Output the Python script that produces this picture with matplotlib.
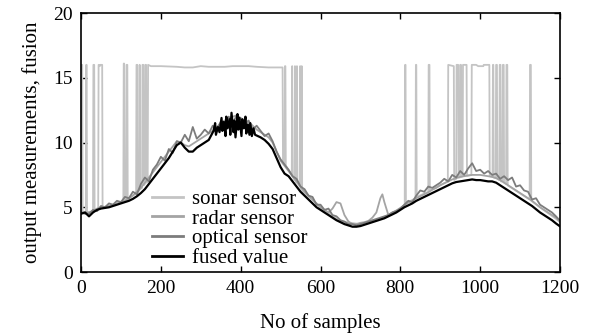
import numpy as np
import matplotlib
matplotlib.use("Agg")
import matplotlib.pyplot as plt

plt.rcParams['font.family'] = ['Liberation Serif', 'DejaVu Serif']
plt.rcParams['font.size'] = 14

# sample index grid (every 10 samples) for the smooth sensors
grid = list(range(0, 1200, 10)) + [1199]

fused = [4.5, 4.6, 4.3, 4.6, 4.8, 4.9, 4.95, 5.0, 5.1, 5.2,
         5.3, 5.4, 5.5, 5.65, 5.85, 6.1, 6.4, 6.8, 7.2, 7.6,
         8.0, 8.4, 8.8, 9.3, 9.8, 10.0, 9.6, 9.3, 9.3, 9.6,
         9.8, 10.0, 10.2, 10.4, 10.7, 11.0, 11.3, 11.5, 11.2, 11.6,
         11.4, 11.0, 11.2, 10.9, 10.5, 10.4, 10.2, 9.9, 9.5, 8.8,
         8.1, 7.6, 7.4, 7.0, 6.6, 6.2, 5.9, 5.6, 5.3, 5.0,
         4.8, 4.6, 4.4, 4.2, 4.0, 3.85, 3.7, 3.6, 3.5, 3.5,
         3.55, 3.65, 3.75, 3.85, 3.95, 4.05, 4.15, 4.3, 4.45, 4.6,
         4.8, 5.0, 5.15, 5.3, 5.5, 5.65, 5.8, 5.95, 6.1, 6.25,
         6.4, 6.55, 6.7, 6.85, 6.95, 7.0, 7.05, 7.1, 7.15, 7.1,
         7.1, 7.05, 7.0, 7.0, 6.9, 6.7, 6.5, 6.3, 6.1, 5.9,
         5.7, 5.5, 5.3, 5.1, 4.85, 4.6, 4.4, 4.2, 4.0, 3.75, 3.55]

# noisy stretch of the fused value near the peak
fused_peak_x = [332, 336, 338, 343, 347, 352, 354, 358, 362, 364, 367, 372,
                374, 377, 382, 384, 387, 392, 394, 397, 402, 404, 408, 412,
                414, 418, 422, 424, 428, 432, 436]
fused_peak_y = [10.9, 11.5, 10.6, 11.2, 10.8, 11.9, 10.9, 11.6, 10.5, 12.0,
                11.1, 11.8, 10.6, 12.3, 10.8, 11.7, 10.4, 12.2, 11.0, 11.9,
                10.5, 11.8, 11.1, 12.0, 10.7, 11.4, 10.6, 11.5, 10.5, 11.1, 10.6]

optical = [4.6, 4.5, 4.5, 4.8, 4.7, 5.1, 5.0, 5.3, 5.2, 5.5,
           5.4, 5.8, 5.7, 6.2, 6.0, 6.8, 7.3, 7.0, 7.9, 8.3,
           8.9, 8.6, 9.5, 9.2, 10.1, 10.0, 10.6, 10.1, 11.2, 10.3,
           10.6, 11.0, 10.7, 11.3, 11.0, 11.6, 11.3, 12.0, 11.5, 12.1,
           11.8, 11.4, 11.7, 11.0, 11.3, 10.9, 10.5, 10.7, 10.1, 9.3,
           8.7, 8.3, 7.9, 7.4, 7.2, 6.6, 6.4, 5.9, 5.8, 5.2,
           5.2, 4.8, 4.9, 4.4, 4.3, 4.0, 3.9, 3.7, 3.7, 3.6,
           3.7, 3.8, 3.9, 4.0, 4.1, 4.2, 4.3, 4.4, 4.6, 4.7,
           4.9, 5.2, 5.5, 5.4, 5.9, 6.3, 6.2, 6.6, 6.5, 6.7,
           6.9, 7.2, 7.0, 7.5, 7.3, 7.8, 7.5, 8.0, 8.4, 7.8,
           7.9, 7.6, 7.8, 7.5, 7.6, 7.2, 7.4, 7.1, 7.3, 6.6,
           6.7, 6.3, 6.2, 5.6, 5.7, 5.2, 5.0, 4.8, 4.6, 4.3, 4.0]

radar_x = (list(range(0, 750, 10)) + [750, 755, 760]
           + list(range(770, 1200, 10)) + [1199])
radar = [4.6, 4.6, 4.6, 4.7, 4.9, 5.0, 5.0, 5.1, 5.2, 5.3,
         5.4, 5.5, 5.7, 5.9, 6.2, 6.5, 6.9, 7.3, 7.7, 8.1,
         8.5, 8.9, 9.3, 9.7, 10.1, 10.0, 9.8, 9.7, 9.9, 10.1,
         10.3, 10.5, 10.7, 10.9, 11.2, 11.5, 11.7, 11.9, 12.0, 12.1,
         11.9, 11.7, 11.6, 11.3, 11.0, 10.8, 10.6, 10.4, 10.0, 9.3,
         8.6, 8.2, 7.8, 7.4, 7.0, 6.6, 6.2, 5.9, 5.6, 5.3,
         5.0, 4.8, 4.6, 4.9, 5.4, 5.3, 4.4, 3.9, 3.7, 3.7,
         3.8, 3.85, 3.95, 4.2, 4.6, 5.7, 6.0, 5.4,
         4.4, 4.6, 4.75, 4.95, 5.15, 5.35, 5.5, 5.7, 5.85, 6.0,
         6.15, 6.35, 6.5, 6.7, 6.85, 7.0, 7.15, 7.25, 7.35, 7.4,
         7.45, 7.5, 7.5, 7.5, 7.45, 7.4, 7.35, 7.25, 7.1, 6.9,
         6.7, 6.5, 6.3, 6.1, 5.9, 5.7, 5.5, 5.25, 5.0, 4.8,
         4.6, 4.4, 4.2, 3.9]

# sonar: drops out to max range (~16) many times
sonar_x = [0, 1, 3, 4, 12, 13, 14, 15, 30, 31, 33, 34, 43, 44, 47, 48, 53, 54,
           106, 107, 108, 109, 113, 114, 116, 117, 138, 139, 141, 142, 146, 147, 148,
           153, 154, 156, 157, 160, 161, 163, 164, 167, 168, 175, 200, 240, 260, 280,
           300, 320, 360, 380, 420, 440, 470, 505, 506, 510, 511, 512, 513, 528, 529,
           530, 535, 536, 537, 540, 541, 542, 548, 549, 550, 552, 553, 554, 600, 650,
           700, 750, 800, 811, 812, 813, 814, 838, 839, 840, 841, 870, 871, 873, 874,
           919, 920, 934, 935, 940, 941, 945, 946, 949, 950, 952, 953, 956, 957, 966,
           967, 978, 979, 990, 995, 1008, 1009, 1023, 1024, 1031, 1032, 1033, 1034,
           1039, 1040, 1042, 1043, 1048, 1049, 1051, 1052, 1056, 1057, 1059, 1060,
           1065, 1066, 1068, 1069, 1124, 1125, 1127, 1128, 1150, 1199]
sonar = [4.6, 16.0, 16.0, 4.6, 4.6, 16.0, 16.0, 4.6, 4.7, 16.0, 16.0, 4.8, 4.9, 16.0, 15.9, 16.0, 16.0, 5.0,
         5.4, 16.1, 16.1, 5.5, 5.5, 16.0, 16.0, 5.6, 6.1, 16.0, 16.0, 6.2, 6.3, 16.0, 6.4,
         6.5, 16.0, 16.0, 6.7, 6.8, 16.0, 16.0, 6.9, 7.0, 16.0, 15.9, 15.9, 15.85, 15.8, 15.8,
         15.9, 15.85, 15.85, 15.9, 15.9, 15.85, 15.8, 15.8, 8.5, 8.3, 15.9, 15.9, 8.2, 7.5, 15.9,
         7.4, 7.1, 15.9, 7.1, 6.9, 15.9, 6.9, 6.6, 15.9, 6.5, 6.4, 15.9, 6.3, 5.0, 3.9,
         3.7, 4.1, 4.9, 5.2, 16.0, 16.0, 5.3, 5.7, 16.0, 16.0, 5.8, 6.2, 16.0, 16.0, 6.3,
         7.0, 16.0, 15.9, 7.1, 7.2, 16.0, 16.0, 7.3, 7.3, 16.0, 16.0, 7.35, 7.4, 16.0, 16.0,
         7.45, 7.5, 16.0, 16.0, 15.9, 15.9, 16.0, 16.0, 7.4, 7.35, 16.0, 16.0, 7.3,
         7.25, 16.0, 16.0, 7.2, 7.1, 16.0, 16.0, 7.0, 7.0, 16.0, 16.0, 6.9,
         6.8, 16.0, 16.0, 6.7, 5.6, 16.0, 16.0, 5.5, 5.0, 3.9]

# merge the peak noise into the fused series (drop the coarse points it covers)
keep = [i for i, x in enumerate(grid) if not 330 <= x <= 440]
fx = np.array([grid[i] for i in keep] + fused_peak_x)
fy = np.array([fused[i] for i in keep] + fused_peak_y)
order = np.argsort(fx, kind="stable")
fx, fy = fx[order], fy[order]

fig = plt.figure(figsize=(6.02, 3.35), dpi=100)
ax = fig.add_axes([0.1346, 0.188, 0.7956, 0.773])

ax.plot(sonar_x, sonar, color="#c4c4c4", lw=1.3, label="sonar sensor")
ax.plot(radar_x, radar, color="#a4a4a4", lw=1.3, label="radar sensor")
ax.plot(grid, optical, color="#7c7c7c", lw=1.3, label="optical sensor")
ax.plot(fx, fy, color="black", lw=1.6, label="fused value")

ax.set_xlim(0, 1200)
ax.set_ylim(0, 20)
ax.set_xticks(range(0, 1201, 200))
ax.set_yticks(range(0, 21, 5))
ax.tick_params(direction="in", top=True, right=True, length=4, width=1, pad=6)
for s in ax.spines.values():
    s.set_linewidth(1.2)

ax.set_xlabel("No of samples", labelpad=11, fontsize=15)
ax.set_ylabel("output measurements, fusion", labelpad=8, fontsize=15)

leg = ax.legend(loc="lower left", bbox_to_anchor=(0.118, -0.04), frameon=False,
                handlelength=1.5, handletextpad=0.4, labelspacing=0.0,
                borderpad=0.2, fontsize=15)
for line in leg.get_lines():
    line.set_linewidth(2)

fig.savefig("out.png", dpi=100)
